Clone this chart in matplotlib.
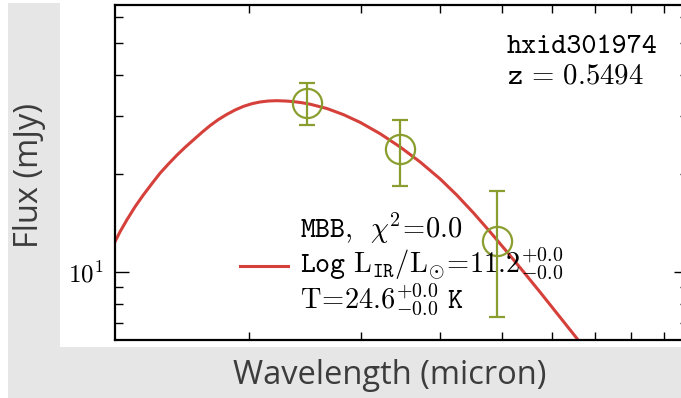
import math
import matplotlib
matplotlib.use("Agg")
import matplotlib.pyplot as plt
from matplotlib.patches import Rectangle
from matplotlib.ticker import FuncFormatter, NullFormatter, LogLocator

plt.rcParams["mathtext.fontset"] = "cm"

# SPIRE photometry (observed frame)
wave_obs = [247, 346, 491]
flux_obs = [32.9, 23.8, 12.5]
flux_err = [4.8, 5.4, 5.2]

# best-fit modified blackbody
wave_model = [123.0, 125.3, 128.4, 132.3, 136.3, 140.5, 144.8, 149.3, 153.9,
              158.6, 163.4, 168.5, 173.6, 178.9, 184.5, 190.1, 195.9, 202.0,
              208.1, 214.5, 221.1, 227.9, 234.8, 242.1, 249.5, 265.1, 281.5,
              299.1, 321.7, 345.8, 371.8, 399.8, 424.7, 451.1, 479.2, 509.1,
              540.7, 574.5, 610.3, 654.7, 664.3]
flux_model = [12.41, 13.32, 14.46, 15.87, 17.23, 18.62, 20.07, 21.42, 22.77,
              24.08, 25.35, 26.72, 28.04, 29.25, 30.34, 31.29, 32.09, 32.70,
              33.10, 33.33, 33.40, 33.33, 33.19, 32.93, 32.59, 31.62, 30.29,
              28.69, 26.48, 24.13, 21.72, 19.28, 17.21, 15.19, 13.29, 11.57,
              10.05, 8.70, 7.51, 6.33, 6.10]

source_id = "hxid301974"
redshift = 0.5494
fit_label = ("$\\mathtt{MBB,}\\ \\,\\chi^2\\!=\\!0.0$\n"
             "$\\mathtt{Log}\\ \\mathrm{L}_{\\mathtt{IR}}/\\mathrm{L}_{\\odot}\\!=\\!11.2^{+0.0}_{-0.0}$\n"
             "$\\mathrm{T}\\!=\\!24.6^{+0.0}_{-0.0}\\ \\mathtt{K}$")

red = "#d6403a"
olive = "#8a9e2f"
label_gray = "#3c3c3c"

fig = plt.figure(figsize=(6.81, 3.98), dpi=100, facecolor="white")

# grey panel and white plot card behind the axes
fig.patches.append(Rectangle((0.0117, 0.0), 0.9883, 0.9925, transform=fig.transFigure,
                             facecolor="#e6e6e6", edgecolor="none", zorder=-2))
fig.patches.append(Rectangle((0.0881, 0.1281), 0.9119, 0.8643, transform=fig.transFigure,
                             facecolor="white", edgecolor="none", zorder=-1))

ax = fig.add_axes([0.1689, 0.1457, 0.8414, 0.8417])
ax.set_xscale("log")
ax.set_yscale("log")

ax.plot(wave_model, flux_model, color=red, linewidth=2.2, label=fit_label)
ax.errorbar(wave_obs, flux_obs, yerr=flux_err, fmt="o", color=olive,
            markersize=21, markerfacecolor="none", markeredgewidth=1.6,
            elinewidth=1.6, capsize=5.5, capthick=1.6)

ax.set_xlim(123, 982)
ax.set_ylim(6.22, 65.4)

ax.yaxis.set_major_formatter(FuncFormatter(lambda v, p: r"$10^{%d}$" % round(math.log10(v))))
ax.yaxis.set_minor_formatter(NullFormatter())
ax.xaxis.set_major_formatter(NullFormatter())
ax.xaxis.set_minor_formatter(NullFormatter())
ax.xaxis.set_minor_locator(LogLocator(base=10, subs=range(2, 10)))

ax.tick_params(which="both", direction="in", top=True, right=True, width=1.0)
ax.tick_params(which="major", length=10, labelsize=18, pad=8)
ax.tick_params(which="minor", length=6)
for s in ax.spines.values():
    s.set_linewidth(1.6)

ax.text(0.684, 0.857, source_id, transform=ax.transAxes, family="cmtt10",
        fontsize=20.7, va="baseline", ha="left")
ax.text(0.684, 0.767, r"$\mathtt{z}\,=\,%.4f$" % redshift, transform=ax.transAxes,
        fontsize=20.7, va="baseline", ha="left")

leg = ax.legend(loc="upper left", bbox_to_anchor=(0.218, 0.385), frameon=False,
                fontsize=20.5, handlelength=1.7, handletextpad=0.4,
                borderpad=0, borderaxespad=0)
for t in leg.get_texts():
    t.set_linespacing(1.0)

fig.text(0.044, 0.558, "Flux (mJy)", rotation=90, ha="center", va="center",
         fontsize=23.5, family="Open Sans", color=label_gray)
fig.text(0.5727, 0.0352, "Wavelength (micron)", ha="center", va="baseline",
         fontsize=23.5, family="Open Sans", color=label_gray)

fig.savefig("out.png", dpi=100, facecolor=fig.get_facecolor())
